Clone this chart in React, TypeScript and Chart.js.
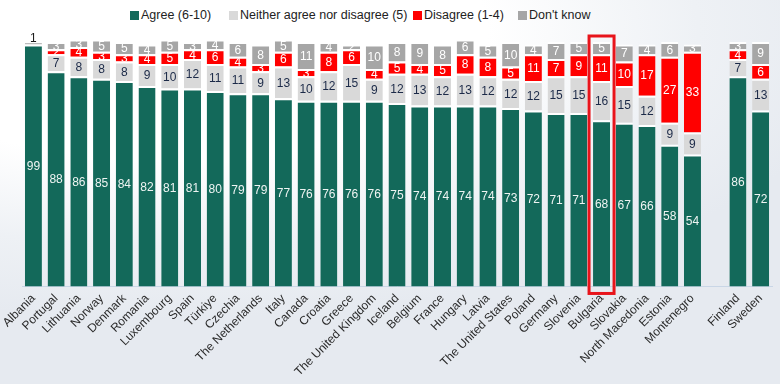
import React, { useEffect, useRef } from "react";
import { Chart, registerables } from "chart.js";

Chart.register(...registerables);

const categories = [
  "Albania", "Portugal", "Lithuania", "Norway", "Denmark", "Romania", "Luxembourg", "Spain",
  "Türkiye", "Czechia", "The Netherlands", "Italy", "Canada", "Croatia", "Greece",
  "The United Kingdom", "Iceland", "Belgium", "France", "Hungary", "Latvia", "The United States",
  "Poland", "Germany", "Slovenia", "Bulgaria", "Slovakia", "North Macedonia", "Estonia",
  "Montenegro", "", "Finland", "Sweden",
];

const agree = [99, 88, 86, 85, 84, 82, 81, 81, 80, 79, 79, 77, 76, 76, 76, 76, 75, 74, 74, 74, 74, 73, 72, 71, 71, 68, 67, 66, 58, 54, null, 86, 72];
const neither = [0, 7, 8, 8, 8, 9, 10, 12, 11, 11, 9, 13, 10, 12, 15, 9, 12, 13, 12, 13, 12, 12, 12, 15, 15, 16, 15, 12, 9, 9, null, 7, 13];
const disagree = [0, 2, 4, 3, 3, 4, 5, 4, 6, 4, 3, 6, 3, 8, 6, 4, 5, 4, 5, 8, 8, 5, 11, 7, 9, 11, 10, 17, 27, 33, null, 4, 6];
const dontKnow = [1, 3, 3, 5, 5, 4, 5, 3, 4, 6, 8, 5, 11, 4, 2, 10, 8, 9, 8, 6, 5, 10, 4, 7, 5, 5, 7, 4, 6, 3, null, 3, 9];

const seriesNames = ["Agree (6-10)", "Neither agree nor disagree (5)", "Disagree (1-4)", "Don't know"];
const seriesColors = ["#13695a", "#d9d9d9", "#ff0000", "#a6a6a6"];
const labelColors = ["#eef4f2", "#1c2a48", "#ffffff", "#ffffff"];
const highlighted = "Bulgaria";

const FONT = "'Liberation Sans', Arial, sans-serif";

const labelsPlugin = {
  id: "segLabels",
  afterDatasetsDraw(chart: any) {
    const ctx = chart.ctx;
    const n = chart.data.datasets.length;
    ctx.save();
    ctx.font = `12px ${FONT}`;
    ctx.textAlign = "center";
    ctx.textBaseline = "middle";
    chart.data.datasets.forEach((ds: any, di: number) => {
      const meta = chart.getDatasetMeta(di);
      meta.data.forEach((bar: any, i: number) => {
        const v = ds.data[i];
        if (v === null || v === undefined || v === 0) return;
        const { x, y, base, width } = bar.getProps(["x", "y", "base", "width"], true);
        const h = base - y;
        let isTop = true;
        for (let k = di + 1; k < n; k++) {
          const w = chart.data.datasets[k].data[i];
          if (w) isTop = false;
        }
        if (isTop && h < 3.5) {
          ctx.fillStyle = "#1a1a1a";
          ctx.fillText(String(v), x, y - 3);
          return;
        }
        ctx.save();
        ctx.beginPath();
        ctx.rect(x - width / 2, y + 1.5, width, h - 1.5);
        ctx.clip();
        ctx.fillStyle = labelColors[di];
        ctx.fillText(String(v), x, y + h / 2 + 1);
        ctx.restore();
      });
    });
    const idx = categories.indexOf(highlighted);
    if (idx >= 0) {
      const xs = chart.scales.x;
      const cx = xs.getPixelForValue(idx);
      const area = chart.chartArea;
      ctx.strokeStyle = "#e8141b";
      ctx.lineWidth = 3;
      ctx.strokeRect(cx - 12.5, area.top - 6, 25, area.bottom - area.top + 13);
    }
    ctx.restore();
  },
};

export default function App() {
  const ref = useRef<HTMLCanvasElement>(null);
  useEffect(() => {
    document.body.style.margin = "0";
    const ctx = ref.current!.getContext("2d")!;
    const sets = [agree, neither, disagree, dontKnow];
    const chart = new Chart(ctx, {
      type: "bar",
      data: {
        labels: categories,
        datasets: sets.map((d, i) => ({
          label: seriesNames[i],
          data: d,
          backgroundColor: seriesColors[i],
          borderColor: "#ffffff",
          borderWidth: { top: 2, left: 0, right: 0, bottom: 0 },
          borderSkipped: false,
          barPercentage: 0.75,
          categoryPercentage: 1,
          clip: false,
        })),
      },
      options: {
        animation: false,
        responsive: false,
        maintainAspectRatio: false,
        layout: { padding: { top: 42, left: 6, right: 8, bottom: 0 } },
        plugins: {
          legend: { display: false },
          tooltip: { enabled: false },
        },
        scales: {
          x: {
            stacked: true,
            grid: { display: false, drawTicks: false },
            border: { display: true, color: "#c9d6e6" },
            ticks: {
              autoSkip: false,
              maxRotation: 45,
              minRotation: 45,
              color: "#2a2a2a",
              font: { family: FONT, size: 12 },
              padding: 5,
            },
          },
          y: {
            stacked: true,
            display: false,
            min: 0,
            max: 100,
          },
        },
      },
      plugins: [labelsPlugin],
    });
    return () => chart.destroy();
  }, []);

  const legendLefts = [130, 229, 413, 518];
  return (
    <div
      style={{
        position: "relative",
        width: 780,
        height: 384,
        overflow: "hidden",
        background:
          "radial-gradient(ellipse 90% 75% at 22% 8%, #ffffff 45%, #eef1f5 75%, #e6eaf0 100%)",
        fontFamily: FONT,
      }}
    >
      {seriesNames.map((name, i) => (
        <div
          key={name}
          style={{
            position: "absolute",
            left: legendLefts[i],
            top: 8,
            display: "flex",
            alignItems: "center",
            fontSize: 12.5,
            color: "#222",
            whiteSpace: "nowrap",
          }}
        >
          <span
            style={{
              display: "inline-block",
              width: 9,
              height: 9,
              background: seriesColors[i],
              marginRight: 2,
            }}
          />
          {name}
        </div>
      ))}
      <canvas ref={ref} width={780} height={384} style={{ position: "absolute", left: 0, top: 0 }} />
    </div>
  );
}
